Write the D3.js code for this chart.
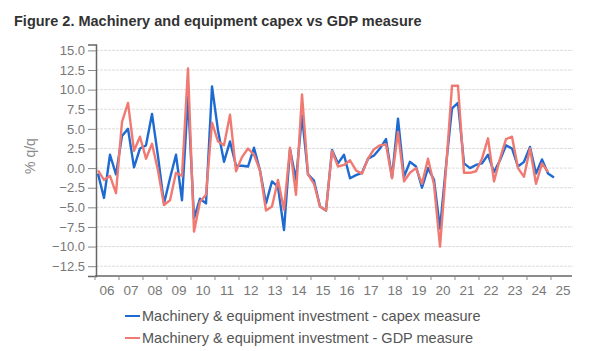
<!DOCTYPE html>
<html>
<head>
	<meta charset="utf-8">
	<title>Machinery and equipment capex vs GDP measure</title>
	<style>
		body { margin: 0; background: #fff; }
		svg { display: block; font-family: "Liberation Sans", Arial, sans-serif; }
	</style>
</head>
<body>
	<svg width="616" height="351"></svg>
<script src="https://cdn.jsdelivr.net/npm/d3@7"></script>
<script>
	// quarterly % q/q, from 2006 Q1
	const years = d3.range(2006, 2026).map(y => String(y).slice(2))
	const yTicks = [-12.5, -10, -7.5, -5, -2.5, 0, 2.5, 5, 7.5, 10, 12.5, 15]

	const capex = [
		-0.7, -3.8, 1.7, -0.8,   4.1, 5.0, 0.1, 2.5,   2.9, 6.9, 1.5, -4.5,   -1.3, 1.7, -4.1, 9.1,
		-6.4, -3.9, -4.5, 10.4,  4.8, 0.8, 3.4, 0.3,   0.3, 0.2, 2.6, -0.3,   -4.5, -1.7, -2.4, -7.9,
		2.4, -1.5, 6.7, -0.8,    -1.6, -4.9, -5.4, 2.3, 0.6, 1.7, -1.3, -0.9,  -0.6, 1.2, 1.6, 2.5,
		3.7, -1.2, 6.3, -1.1,    0.8, 0.2, -2.5, 0.0,  -1.5, -7.7, 0.3, 7.6,   8.3, 0.6, 0.0, 0.4,
		0.6, 1.7, -0.5, 1.0,     2.9, 2.5, 0.2, 0.8,   2.7, -0.7, 1.1, -0.7,  -1.2
	]
	const gdp = [
		-0.3, -1.5, -1.0, -3.2,  5.9, 8.3, 2.2, 4.0,   1.2, 3.1, -0.3, -4.7,  -4.1, -0.6, -1.0, 12.7,
		-8.1, -4.3, -3.4, 5.8,   3.4, 2.9, 6.8, -0.4,  1.4, 2.5, 1.7, -0.3,   -5.4, -4.9, -1.5, -5.3,
		2.6, -3.4, 9.4, -0.8,    -2.0, -4.9, -5.4, 2.2, 0.2, 0.4, 1.0, -0.3,  -0.7, 1.2, 2.4, 2.9,
		3.0, -1.3, 4.6, -1.7,    -0.6, 0.0, -2.0, 1.2, -2.1, -10.0, -0.2, 10.5, 10.5, -0.6, -0.6, -0.4,
		1.2, 3.8, -1.7, 1.2,     3.7, 4.0, 0.0, -1.1,  2.5, -2.0, 0.6, -0.5
	]

	const series = [
		{ name: "Machinery & equipment investment - capex measure", values: capex, color: "#1f6ad0" },
		{ name: "Machinery & equipment investment - GDP measure", values: gdp, color: "#f07a72" }
	]

	function draw() {
		const svg = d3.select("svg")
		const left = 96, right = 575, top = 44.5, bottom = 276

		// year bands on the x axis, quarters inside them
		const xYear = d3.scaleBand().domain(years).range([left - 1, right]).padding(0)
		const xq = d3.scaleLinear().domain([0, years.length * 4]).range([left - 1, right])
		const y = d3.scaleLinear().domain([-13.75, 15.75]).range([bottom, top])

		// title
		svg.append("text")
			.attr("x", 14).attr("y", 26)
			.attr("font-size", 14.5).attr("font-weight", "bold").attr("fill", "#333")
			.text("Figure 2. Machinery and equipment capex vs GDP measure")

		// gridlines
		svg.append("g").selectAll("line").data(yTicks).enter().append("line")
			.attr("x1", left).attr("x2", right - 2)
			.attr("y1", d => y(d)).attr("y2", d => y(d))
			.attr("stroke", "#dcdcdc").attr("stroke-dasharray", "3,1")

		// y axis
		const gy = svg.append("g").attr("transform", `translate(${left},0)`)
			.call(d3.axisLeft(y).tickValues(yTicks).tickFormat(d3.format(".1f")).tickSize(8).tickPadding(3))
		gy.select(".domain").attr("stroke", "#666").attr("stroke-width", 1.5)
		gy.selectAll(".tick line").attr("stroke", "#888")
		gy.selectAll("text").attr("font-size", 13).attr("fill", "#777")
		gy.attr("font-family", null)

		svg.append("text")
			.attr("transform", "translate(35,156) rotate(-90)")
			.attr("text-anchor", "middle")
			.attr("font-size", 14).attr("fill", "#8a8a8a")
			.text("% q/q")

		// x axis: ticks on year boundaries, labels centred in the year
		const gx = svg.append("g").attr("transform", `translate(0,${bottom})`)
		gx.append("line").attr("x1", left - 1).attr("x2", right - 3)
			.attr("stroke", "#666").attr("stroke-width", 1.5)
		gx.selectAll("line.tk").data(years).enter().append("line").attr("class", "tk")
			.attr("x1", d => xYear(d)).attr("x2", d => xYear(d))
			.attr("y1", 0).attr("y2", 4).attr("stroke", "#888")
		gx.selectAll("text").data(years).enter().append("text")
			.attr("x", d => xYear(d) + xYear.bandwidth() / 2).attr("y", 19)
			.attr("text-anchor", "middle")
			.attr("font-size", 13.5).attr("fill", "#777")
			.text(d => d)

		// lines
		const line = d3.line().x((d, i) => xq(i + 0.5)).y(d => y(d))
		series.forEach(s => {
			svg.append("path").datum(s.values)
				.attr("d", line)
				.attr("fill", "none").attr("stroke", s.color)
				.attr("stroke-width", 2.4).attr("stroke-linejoin", "round")
		})

		// legend
		const lg = svg.append("g").attr("transform", "translate(125,316)")
		series.forEach((s, i) => {
			let g = lg.append("g").attr("transform", `translate(0,${i * 22})`)
			g.append("line").attr("x1", 0).attr("x2", 15).attr("stroke", s.color).attr("stroke-width", 2)
			g.append("text").attr("x", 17).attr("y", 5)
				.attr("font-size", 14.5).attr("fill", "#555")
				.text(s.name)
		})
	}
	draw()
</script>
</body>
</html>
